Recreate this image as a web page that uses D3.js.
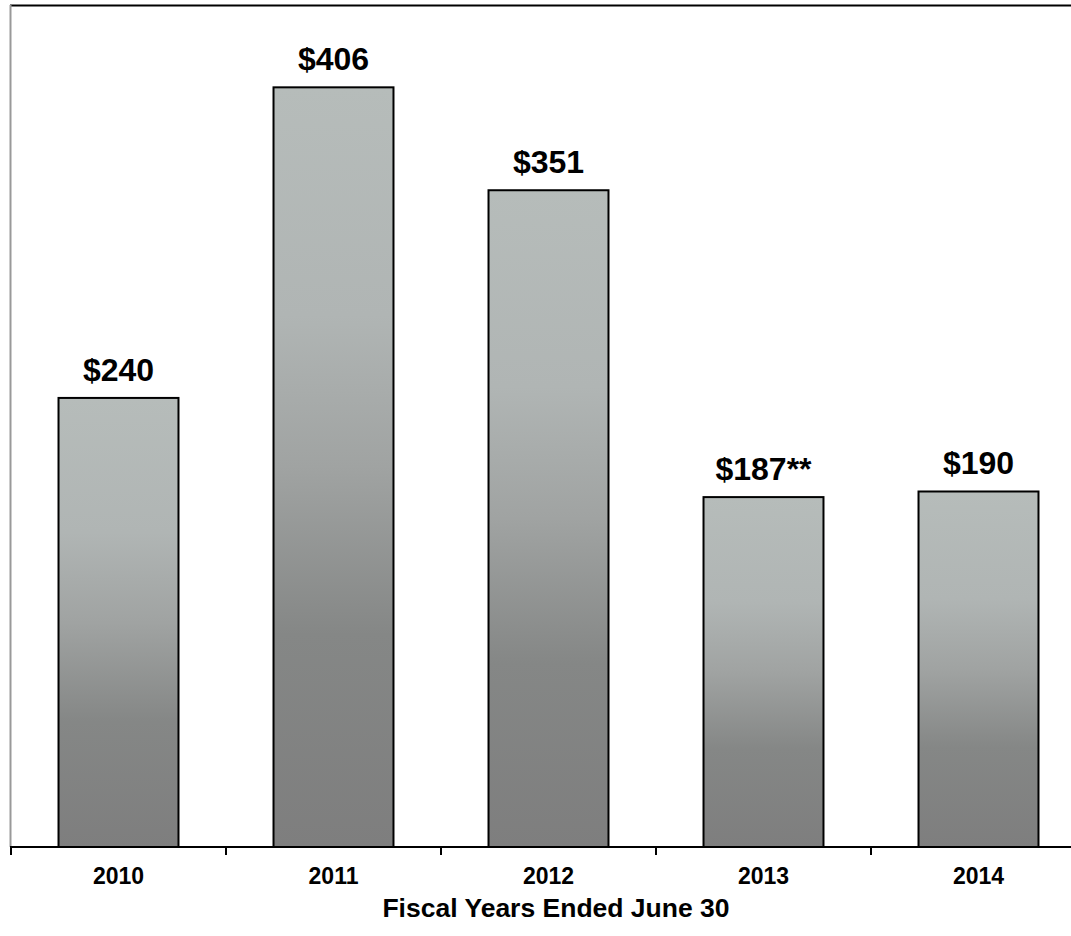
<!DOCTYPE html>
<html>
<head>
<meta charset="utf-8">
<script src="https://cdn.jsdelivr.net/npm/d3@7/dist/d3.min.js"></script>
<style>
  html, body { margin: 0; padding: 0; background: #fff; }
  svg { display: block; }
  text { font-family: "Liberation Sans", Arial, Helvetica, sans-serif; font-weight: bold; fill: #000; }
</style>
</head>
<body>
<div id="chart"></div>
<script>
// Fiscal year totals (USD)
const years = ["2010", "2011", "2012", "2013", "2014"];
const values = [240, 406, 351, 187, 190];
const valueLabels = ["$240", "$406", "$351", "$187**", "$190"];
const axisTitle = "Fiscal Years Ended June 30";

const width = 1071, height = 936;
const plot = { left: 11, right: 1086, top: 5, bottom: 847 };

const svg = d3.select("#chart").append("svg")
  .attr("width", width)
  .attr("height", height);

// Shared vertical gradient for each bar
const grad = svg.append("defs").append("linearGradient")
  .attr("id", "barFill")
  .attr("x1", 0).attr("y1", 0).attr("x2", 0).attr("y2", 1);
[[0, "#b6bcba"], [0.3, "#b0b5b4"], [0.5, "#a0a3a2"], [0.72, "#858786"], [1, "#7e7e7e"]]
  .forEach(([o, c]) => grad.append("stop").attr("offset", o).attr("stop-color", c));

const x = d3.scaleBand()
  .domain(years)
  .range([plot.left, plot.right])
  .paddingInner(0.442)
  .paddingOuter(0.221);

const y = d3.scaleLinear()
  .domain([0, 450])
  .range([plot.bottom, plot.top]);

// Plot frame: top border and left value-axis line
svg.append("line")
  .attr("x1", plot.left - 1).attr("x2", width)
  .attr("y1", plot.top + 0.5).attr("y2", plot.top + 0.5)
  .attr("stroke", "#000").attr("stroke-width", 2);
svg.append("line")
  .attr("x1", plot.left - 0.5).attr("x2", plot.left - 0.5)
  .attr("y1", plot.top).attr("y2", plot.bottom)
  .attr("stroke", "#999").attr("stroke-width", 2);

// Bars
svg.selectAll("rect.bar")
  .data(years)
  .join("rect")
  .attr("class", "bar")
  .attr("x", d => x(d))
  .attr("width", x.bandwidth())
  .attr("y", (d, i) => y(values[i]))
  .attr("height", (d, i) => y(0) - y(values[i]))
  .attr("fill", "url(#barFill)")
  .attr("stroke", "#000")
  .attr("stroke-width", 2);

// Value labels above bars
svg.selectAll("text.value")
  .data(years)
  .join("text")
  .attr("class", "value")
  .attr("x", d => x(d) + x.bandwidth() / 2)
  .attr("y", (d, i) => y(values[i]) - 17)
  .attr("text-anchor", "middle")
  .attr("font-size", 32)
  .text((d, i) => valueLabels[i]);

// Category axis with ticks between bands
const step = x.step();
const boundaries = d3.range(years.length + 1).map(i => plot.left + i * step);
const axisG = svg.append("g");
axisG.append("line")
  .attr("x1", plot.left - 1).attr("x2", width)
  .attr("y1", plot.bottom).attr("y2", plot.bottom)
  .attr("stroke", "#000").attr("stroke-width", 2);
axisG.selectAll("line.tick")
  .data(boundaries)
  .join("line")
  .attr("class", "tick")
  .attr("x1", d => d).attr("x2", d => d)
  .attr("y1", plot.bottom).attr("y2", plot.bottom + 8)
  .attr("stroke", "#000").attr("stroke-width", 2);
axisG.selectAll("text.year")
  .data(years)
  .join("text")
  .attr("class", "year")
  .attr("x", d => x(d) + x.bandwidth() / 2)
  .attr("y", 884)
  .attr("text-anchor", "middle")
  .attr("font-size", 23)
  .text(d => d);

svg.append("text")
  .attr("x", 556)
  .attr("y", 917)
  .attr("text-anchor", "middle")
  .attr("font-size", 26.5)
  .text(axisTitle);
</script>
</body>
</html>
